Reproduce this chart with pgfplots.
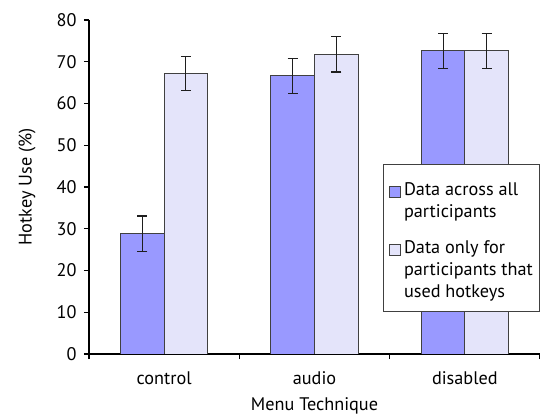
\documentclass[border=0pt]{standalone}
\usepackage{pgfplots}
\pgfplotsset{compat=1.18}
\usepackage{fontspec}
\setmainfont{PT Sans}
\definecolor{barA}{RGB}{153,153,255}
\definecolor{barB}{RGB}{228,228,250}
\definecolor{edge}{RGB}{64,64,64}
\definecolor{errc}{RGB}{30,30,30}
\begin{document}
\begin{tikzpicture}
\useasboundingbox (-89bp,-60bp) rectangle (451bp,354bp);
\begin{axis}[
  at={(0,0)}, anchor=south west,
  scale only axis, width=451bp, height=334bp,
  ybar=0pt, bar width=43.5bp,
  xmin=-0.5, xmax=2.5, ymin=0, ymax=80,
  xtick={0,1,2}, xticklabels={control,audio,disabled},
  minor xtick={-0.5,0.5,1.5,2.5},
  ytick={0,10,...,80},
  axis x line*=bottom, axis y line*=left,
  axis line style={line width=1.1bp, black},
  tick align=outside, major tick length=5bp, minor tick length=5bp,
  every tick/.style={black, line width=1.1bp},
  major x tick style={draw=none},
  /pgf/number format/assume math mode=true,
  tick label style={font=\fontsize{18.3}{22}\selectfont},
  xticklabel style={yshift=-9bp},
  yticklabel style={xshift=-4bp},
  label style={font=\fontsize{18.3}{22}\selectfont},
  xlabel={Menu Technique}, ylabel={Hotkey Use (\%)},
  xlabel style={at={(axis description cs:0.5,-0.155)}, anchor=center},
  ylabel style={at={(axis description cs:-0.137,0.5)}, anchor=center},
  legend style={at={(axis description cs:0.652,0.568)}, anchor=north west,
    draw=edge, line width=1bp, fill=white,
    font=\fontsize{18.3}{22}\selectfont,
    nodes={inner sep=2bp, text depth=},
    cells={anchor=base west},
    inner xsep=5bp, inner ysep=8bp, row sep=15.5bp, column sep=1.5bp},
  legend image code/.code={\draw[#1,line width=1bp] (0bp,-2bp) rectangle (11bp,9bp);},
  error bars/error bar style={line width=1.1bp, errc},
  error bars/error mark options={rotate=90, line width=1.1bp, errc, mark size=5bp},
]
\addplot+[fill=barA, draw=edge, line width=1bp,
  error bars/.cd, y dir=both, y explicit]
  coordinates {(0,28.8) +- (0,4.25) (1,66.6) +- (0,4.25) (2,72.6) +- (0,4.25)};
\addlegendentry{\vtop{\hbox{\rule{0pt}{21bp}Data across all}\hbox{participants}}}
\addplot+[fill=barB, draw=edge, line width=1bp,
  error bars/.cd, y dir=both, y explicit]
  coordinates {(0,67.2) +- (0,4.1) (1,71.8) +- (0,4.25) (2,72.6) +- (0,4.25)};
\addlegendentry{\vtop{\hbox{Data only for}\hbox{participants that}\hbox{used hotkeys}}}
\end{axis}
\end{tikzpicture}
\end{document}
